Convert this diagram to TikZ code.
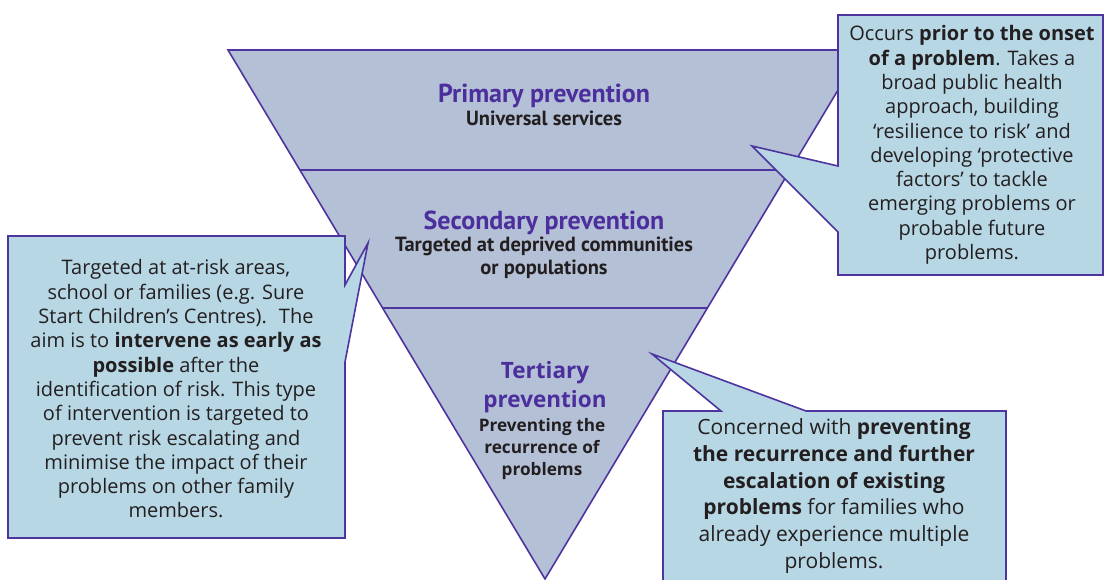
\documentclass[tikz,border=0pt]{standalone}
\usepackage{fontspec}
\setmainfont{Open Sans}
\newfontfamily\condfont{PT Sans}
\definecolor{trifill}{RGB}{179,192,214}
\definecolor{boxfill}{RGB}{183,215,228}
\definecolor{edgecol}{RGB}{78,52,158}
\definecolor{headcol}{RGB}{76,46,156}
\definecolor{bodycol}{RGB}{35,31,32}

\begin{document}
\begin{tikzpicture}[x=1pt,y=-1pt,
  tri/.style={fill=trifill,draw=edgecol,line width=1.6pt},
  callout/.style={fill=boxfill,draw=edgecol,line width=1.6pt},
  head/.style={font=\condfont\bfseries\fontsize{26}{28}\selectfont,text=headcol,inner sep=0},
  sub/.style={font=\condfont\bfseries\fontsize{20.5}{23}\selectfont,text=bodycol,align=center,inner sep=0},
  thead/.style={font=\bfseries\fontsize{22.5}{29}\selectfont,text=headcol,align=center,inner sep=0},
  tsub/.style={font=\bfseries\fontsize{17.2}{22.2}\selectfont,text=bodycol,align=center,inner sep=0},
  note/.style={font=\fontsize{20}{24.3}\selectfont,text=bodycol,align=center,inner sep=0}]
\useasboundingbox (0,0) rectangle (1105,579);
\clip (0,0) rectangle (1105,579);

% the inverted triangle
\coordinate (tl) at (228,50);
\coordinate (tr) at (862,50);
\coordinate (apex) at (545,579);
\draw[tri] (tl) -- (tr) -- (apex) -- cycle;
\draw[tri] (300,170) coordinate (d1l) -- (790,170) coordinate (d1r);
\draw[tri] (383,308) coordinate (d2l) -- (707,308) coordinate (d2r);

\node[head] (prim) at (544,96) {Primary prevention};
\node[sub] (primsub) at (544,118) {Universal services};
\node[head] (sec) at (544,223) {Secondary prevention};
\node[sub] (secsub) at (544,257.5) {Targeted at deprived communities\\or populations};
\node[thead] (ter) at (545,387.5) {Tertiary\\prevention};
\node[tsub] (tersub) at (542,449) {Preventing the\\recurrence of\\problems};

% callouts
\draw[callout] (838,15) -- (1103,15) -- (1103,275) -- (838,275) -- (838,232)
  -- (752,146) coordinate (tipA) -- (838,166) -- cycle;
\draw[callout] (8,236) -- (345,236) -- (345,285) -- (368,243) coordinate (tipB)
  -- (345,362) -- (345,538) -- (8,538) -- cycle;
\draw[callout] (663,411) -- (721,411) -- (652,354) coordinate (tipC) -- (806,411)
  -- (1006,411) -- (1006,590) -- (663,590) -- cycle;

\node[note] (primnote) at (972,145) {Occurs \textbf{prior to the onset}\\
  \textbf{of a problem}. Takes a\\broad public health\\approach, building\\
  ‘resilience to risk’ and\\developing ‘protective\\factors’ to tackle\\
  emerging problems or\\probable future\\problems.};
\node[note] (secnote) at (176,389) {Targeted at at-risk areas,\\
  school or families (e.g. Sure\\Start Children’s Centres).~ The\\
  aim is to \textbf{intervene as early as}\\\textbf{possible} after the\\
  identification of risk. This type\\of intervention is targeted to\\
  prevent risk escalating and\\minimise the impact of their\\
  problems on other family\\members.};
\node[note,font=\fontsize{21}{26.8}\selectfont] (ternote) at (834,496) {Concerned with \textbf{preventing}\\
  \textbf{the recurrence and further}\\\textbf{escalation of existing}\\
  \textbf{problems} for families who\\already experience multiple\\problems.};
\end{tikzpicture}
\end{document}
